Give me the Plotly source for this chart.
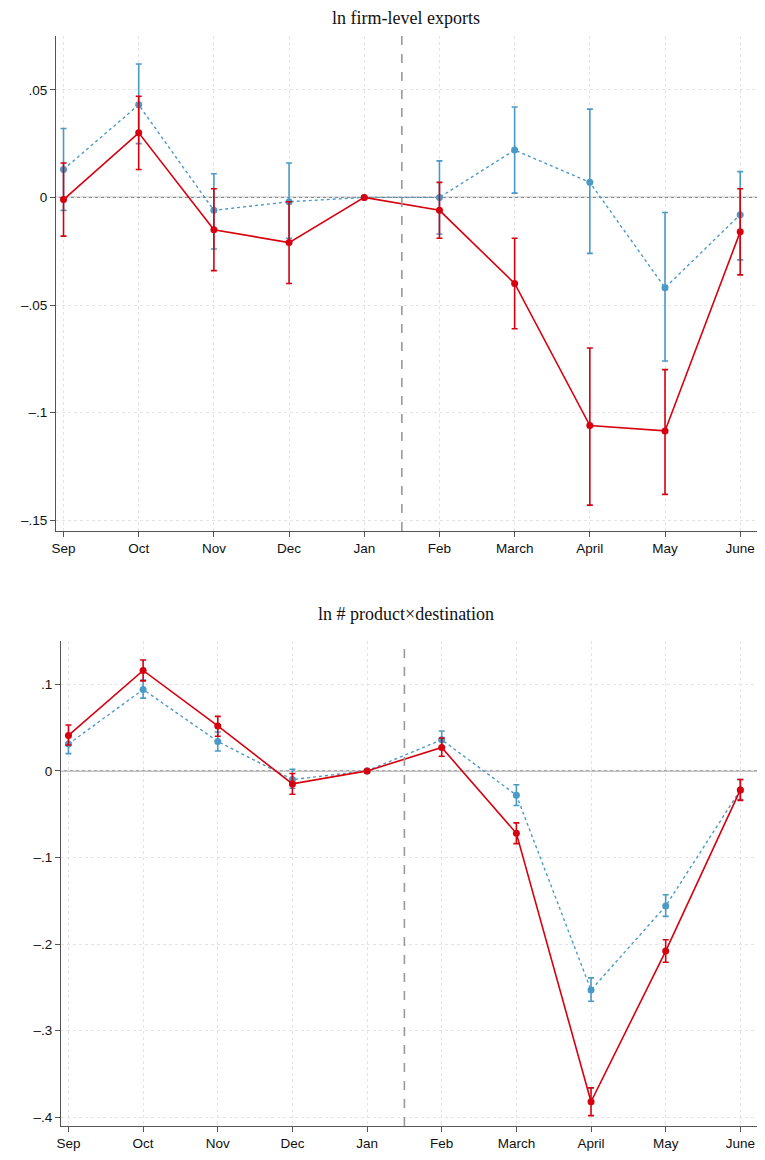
import plotly.graph_objects as go

months = ["Sep", "Oct", "Nov", "Dec", "Jan", "Feb", "March", "April", "May", "June"]

# ln firm-level exports
exp_red = [-0.001, 0.030, -0.015, -0.021, 0.0, -0.006, -0.040, -0.106, -0.1085, -0.016]
exp_red_hi = [0.016, 0.047, 0.004, -0.002, 0.0, 0.007, -0.019, -0.070, -0.080, 0.004]
exp_red_lo = [-0.018, 0.013, -0.034, -0.040, 0.0, -0.019, -0.061, -0.143, -0.138, -0.036]
exp_blue = [0.013, 0.043, -0.006, -0.002, 0.0, 0.000, 0.022, 0.007, -0.042, -0.008]
exp_blue_hi = [0.032, 0.062, 0.011, 0.016, 0.0, 0.017, 0.042, 0.041, -0.007, 0.012]
exp_blue_lo = [-0.006, 0.025, -0.024, -0.019, 0.0, -0.017, 0.002, -0.026, -0.076, -0.029]

# ln # product x destination
pd_red = [0.041, 0.116, 0.052, -0.015, 0.0, 0.027, -0.072, -0.382, -0.208, -0.022]
pd_red_hi = [0.053, 0.128, 0.063, -0.003, 0.0, 0.038, -0.060, -0.366, -0.195, -0.010]
pd_red_lo = [0.030, 0.104, 0.040, -0.027, 0.0, 0.017, -0.084, -0.398, -0.221, -0.034]
pd_blue = [0.031, 0.094, 0.034, -0.010, 0.0, 0.036, -0.028, -0.253, -0.156, -0.022]
pd_blue_hi = [0.042, 0.105, 0.045, 0.002, 0.0, 0.046, -0.016, -0.239, -0.143, -0.010]
pd_blue_lo = [0.020, 0.084, 0.023, -0.020, 0.0, 0.026, -0.040, -0.266, -0.168, -0.033]

RED = "#d7000f"
BLUE = "#4a9ac6"

W, H, OFF = 755, 1150, 7  # page body margin offsets the figure


def dx(px):
    return (px - OFF) / W


def dy(px):
    return 1 - (px - OFF) / H


fig = go.Figure()


def add_series(y, hi, lo, color, dash, xa, ya):
    fig.add_trace(go.Scatter(
        x=list(range(len(months))), y=y, mode="lines+markers",
        line=dict(color=color, width=1.6 if dash == "solid" else 1.4, dash=dash),
        marker=dict(color=color, size=7),
        error_y=dict(type="data", symmetric=False,
                     array=[h - v for h, v in zip(hi, y)],
                     arrayminus=[v - l for v, l in zip(y, lo)],
                     color=color, thickness=1.6, width=3),
        xaxis=xa, yaxis=ya, showlegend=False))


add_series(exp_blue, exp_blue_hi, exp_blue_lo, BLUE, "dot", "x", "y")
add_series(exp_red, exp_red_hi, exp_red_lo, RED, "solid", "x", "y")
add_series(pd_blue, pd_blue_hi, pd_blue_lo, BLUE, "dot", "x2", "y2")
add_series(pd_red, pd_red_hi, pd_red_lo, RED, "solid", "x2", "y2")

axis_common = dict(showline=True, linecolor="#555", linewidth=1, ticks="outside",
                   ticklen=5, tickcolor="#555", showgrid=True, gridcolor="#e4e4e4",
                   griddash="dot", zeroline=False, automargin=False,
                   tickfont=dict(family="Liberation Sans", size=13.5, color="#111"))

xticks = dict(tickmode="array", tickvals=list(range(len(months))), ticktext=months,
              range=[-0.1, 9.25])
fig.update_layout(
    width=W, height=H, plot_bgcolor="white", paper_bgcolor="white",
    margin=dict(l=0, r=0, t=0, b=0),
    xaxis=dict(domain=[dx(55), dx(758)], anchor="y", **xticks, **axis_common),
    yaxis=dict(domain=[dy(530), dy(35)], anchor="x", range=[-0.155, 0.075],
               tickvals=[0.05, 0, -0.05, -0.1, -0.15], ticktext=[".05", "0", "–.05", "–.1", "–.15"],
               **axis_common),
    xaxis2=dict(domain=[dx(60), dx(758)], anchor="y2", **xticks, **axis_common),
    yaxis2=dict(domain=[dy(1125), dy(640)], anchor="x2", range=[-0.41, 0.15],
                tickvals=[0.1, 0, -0.1, -0.2, -0.3, -0.4], ticktext=[".1", "0", "–.1", "–.2", "–.3", "–.4"],
                **axis_common),
    shapes=[
        dict(type="line", xref="x", yref="y domain", x0=4.5, x1=4.5, y0=0, y1=1,
             line=dict(color="#999", width=1.6, dash="dash")),
        dict(type="line", xref="x2", yref="y2 domain", x0=4.5, x1=4.5, y0=0, y1=1,
             line=dict(color="#999", width=1.6, dash="dash")),
        dict(type="line", xref="x domain", yref="y", x0=0, x1=1, y0=0, y1=0,
             line=dict(color="#888", width=1.2), layer="below"),
        dict(type="line", xref="x2 domain", yref="y2", x0=0, x1=1, y0=0, y1=0,
             line=dict(color="#888", width=1.2), layer="below"),
    ],
    annotations=[
        dict(text="ln firm-level exports", x=dx(405), y=dy(17), xref="paper", yref="paper",
             yanchor="middle", showarrow=False,
             font=dict(family="Liberation Serif", size=18, color="#111")),
        dict(text="ln # product×destination", x=dx(405), y=dy(613), xref="paper", yref="paper",
             yanchor="middle", showarrow=False,
             font=dict(family="Liberation Serif", size=18, color="#111")),
    ],
)

fig.write_html("out.html")
